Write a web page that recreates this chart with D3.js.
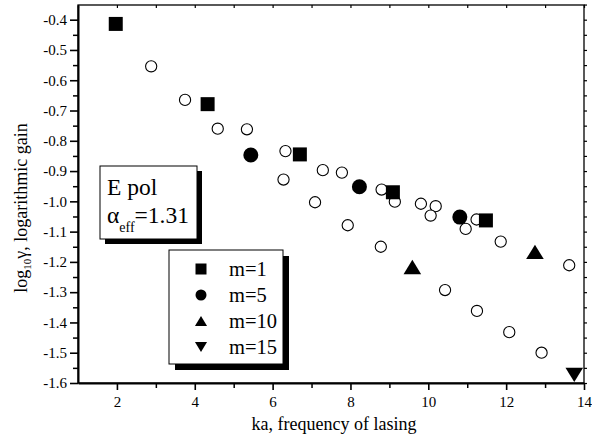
<!DOCTYPE html>
<html>
<head>
<meta charset="utf-8">
<script src="https://cdnjs.cloudflare.com/ajax/libs/d3/7.8.5/d3.min.js"></script>
<style>
  body { margin: 0; background: #fff; }
  svg text { font-family: "Liberation Serif", "Times New Roman", Times, "DejaVu Serif", serif; }
</style>
</head>
<body>
<div id="chart"></div>
<script>
// data
var m1X = [1.97, 4.33, 6.70, 9.09, 11.48];
var m1Y = [-0.414, -0.679, -0.845, -0.970, -1.063];

var m5X = [5.44, 8.23, 10.81];
var m5Y = [-0.847, -0.952, -1.052];

var m10X = [9.59, 12.74];
var m10Y = [-1.217, -1.167];

var m15X = [13.75];
var m15Y = [-1.573];

// open circles (other modes)
var openX = [2.88, 3.75, 4.59, 5.34, 6.33, 6.28, 7.29, 7.78, 7.09, 7.93, 8.80, 9.14, 8.78,
             9.81, 10.19, 10.06, 11.24, 10.96, 11.86, 13.62, 10.43, 11.25, 12.08, 12.91];
var openY = [-0.554, -0.665, -0.760, -0.762, -0.834, -0.928, -0.897, -0.905, -1.003, -1.079, -0.961, -1.001, -1.150,
             -1.008, -1.016, -1.047, -1.060, -1.091, -1.133, -1.211, -1.293, -1.362, -1.432, -1.500];

var xMajor = [2, 4, 6, 8, 10, 12, 14];
var yMajor = [-0.4, -0.5, -0.6, -0.7, -0.8, -0.9, -1.0, -1.1, -1.2, -1.3, -1.4, -1.5, -1.6];

var legendLabels = ["m=1", "m=5", "m=10", "m=15"];
var legendShapes = ["square", "circle", "up", "down"];

//svg size
var svgWidth = 592;
var svgHeight = 439;

var margin = { top: 5, right: 8, bottom: 56, left: 78 };
var width = svgWidth - margin.left - margin.right;
var height = svgHeight - margin.top - margin.bottom;

var svg = d3.select("#chart")
  .append("svg")
  .attr("width", svgWidth)
  .attr("height", svgHeight);

var chartGroup = svg.append("g")
  .attr("transform", `translate(${margin.left}, ${margin.top})`);

// scales
var xScale = d3.scaleLinear().domain([1, 14]).range([0, width]);
var yScale = d3.scaleLinear().domain([-1.6, -0.3515]).range([height, 0]);

var fmt = v => v.toFixed(1);

// minor tick positions
var xMinor = d3.range(3, 14, 2);
var yMinor = d3.range(-1.55, -0.36, 0.1);
var yAll = d3.range(-1.6, -0.34, 0.05);
var xAll = d3.range(1, 14.01, 1);

// frame (top + right)
chartGroup.append("rect")
  .attr("width", width)
  .attr("height", height)
  .attr("fill", "none")
  .attr("stroke", "#000")
  .attr("stroke-width", 1.3);

// top axis small ticks
chartGroup.append("g")
  .call(d3.axisTop(xScale).tickValues(xAll).tickSize(-3).tickFormat(""))
  .call(g => g.select(".domain").remove())
  .selectAll("line").attr("stroke-width", 1.2);

// right axis small ticks
chartGroup.append("g")
  .attr("transform", `translate(${width}, 0)`)
  .call(d3.axisRight(yScale).tickValues(yAll).tickSize(3).tickFormat(""))
  .call(g => g.select(".domain").remove())
  .selectAll("line").attr("stroke-width", 1.2);

// bottom axis: minor then major
chartGroup.append("g")
  .attr("transform", `translate(0, ${height})`)
  .call(d3.axisBottom(xScale).tickValues(xMinor).tickSize(5).tickFormat(""))
  .call(g => g.select(".domain").remove())
  .selectAll("line").attr("stroke-width", 1.5);

var xAxis = chartGroup.append("g")
  .attr("transform", `translate(0, ${height})`)
  .call(d3.axisBottom(xScale).tickValues(xMajor).tickSize(7).tickSizeOuter(0).tickPadding(6).tickFormat(d => d))
  .attr("font-family", null)
  .attr("font-size", "15px");
xAxis.select(".domain").attr("stroke-width", 2);
xAxis.selectAll("line").attr("stroke-width", 1.6);

// left axis: minor then major
chartGroup.append("g")
  .call(d3.axisLeft(yScale).tickValues(yMinor).tickSize(5).tickFormat(""))
  .call(g => g.select(".domain").remove())
  .selectAll("line").attr("stroke-width", 1.5);

var yAxis = chartGroup.append("g")
  .call(d3.axisLeft(yScale).tickValues(yMajor).tickSize(8).tickSizeOuter(0).tickPadding(3).tickFormat(fmt))
  .attr("font-family", null)
  .attr("font-size", "15px");
yAxis.select(".domain").attr("stroke-width", 2);
yAxis.selectAll("line").attr("stroke-width", 1.6);

// axis titles
chartGroup.append("text")
  .attr("x", width / 2 + 3)
  .attr("y", height + 47)
  .attr("text-anchor", "middle")
  .attr("font-size", "18px")
  .text("ka, frequency of lasing");

var yTitle = chartGroup.append("text")
  .attr("transform", `translate(${-51}, ${height / 2 + 14}) rotate(-90)`)
  .attr("text-anchor", "middle")
  .attr("font-size", "18px");
yTitle.append("tspan").text("log");
yTitle.append("tspan").attr("font-size", "11px").attr("dy", 4).text("10");
yTitle.append("tspan").attr("dy", -4).text("γ, logarithmic gain");

// marker paths
function shapePath(kind, s) {
  var h = s / 2;
  if (kind === "square") return `M${-h},${-h}H${h}V${h}H${-h}Z`;
  if (kind === "up") return `M0,${-h * 0.9}L${h * 1.1},${h * 0.9}L${-h * 1.1},${h * 0.9}Z`;
  if (kind === "down") return `M0,${h * 0.9}L${h * 1.1},${-h * 0.9}L${-h * 1.1},${-h * 0.9}Z`;
  return d3.symbol().type(d3.symbolCircle).size(Math.PI * h * h)();
}

// open circles
chartGroup.selectAll(".open")
  .data(d3.range(openX.length))
  .enter()
  .append("circle")
  .attr("class", "open")
  .attr("cx", i => xScale(openX[i]))
  .attr("cy", i => yScale(openY[i]))
  .attr("r", 5.6)
  .attr("fill", "#fff")
  .attr("stroke", "#000")
  .attr("stroke-width", 1.1);

// filled series
var series = [
  { xs: m1X, ys: m1Y, kind: "square", s: 14 },
  { xs: m5X, ys: m5Y, kind: "circle", s: 15 },
  { xs: m10X, ys: m10Y, kind: "up", s: 16 },
  { xs: m15X, ys: m15Y, kind: "down", s: 16 }
];
series.forEach(function(sr) {
  chartGroup.selectAll(null)
    .data(d3.range(sr.xs.length))
    .enter()
    .append("path")
    .attr("d", shapePath(sr.kind, sr.s))
    .attr("transform", i => `translate(${xScale(sr.xs[i])}, ${yScale(sr.ys[i])})`)
    .attr("fill", "#000");
});

// text box "E pol"
var box = svg.append("g").attr("transform", "translate(100, 166)");
box.append("rect")
  .attr("x", 5).attr("y", 5).attr("width", 97).attr("height", 73)
  .attr("fill", "#000");
box.append("rect")
  .attr("width", 97).attr("height", 73)
  .attr("fill", "#fff").attr("stroke", "#000").attr("stroke-width", 1);
box.append("text")
  .attr("x", 7).attr("y", 29)
  .attr("font-size", "23.5px")
  .text("E pol");
var alpha = box.append("text")
  .attr("x", 7).attr("y", 57)
  .attr("font-size", "23.5px");
alpha.append("tspan").text("α");
alpha.append("tspan").attr("font-size", "14px").attr("dy", 9).text("eff");
alpha.append("tspan").attr("dy", -9).text("=1.31");

// legend
var legend = svg.append("g").attr("transform", "translate(169, 250)");
legend.append("rect")
  .attr("x", 6).attr("y", 6).attr("width", 114).attr("height", 114)
  .attr("fill", "#000");
legend.append("rect")
  .attr("width", 114).attr("height", 114)
  .attr("fill", "#fff").attr("stroke", "#000").attr("stroke-width", 1);

var rows = legend.selectAll(".row")
  .data(legendLabels)
  .enter()
  .append("g")
  .attr("transform", (d, i) => `translate(0, ${19 + i * 26})`);
rows.append("path")
  .attr("transform", "translate(32, 0)")
  .attr("d", (d, i) => shapePath(legendShapes[i], 11))
  .attr("fill", "#000");
rows.append("text")
  .attr("x", 60).attr("y", 7)
  .attr("font-size", "20.5px")
  .text(d => d);
</script>
</body>
</html>
